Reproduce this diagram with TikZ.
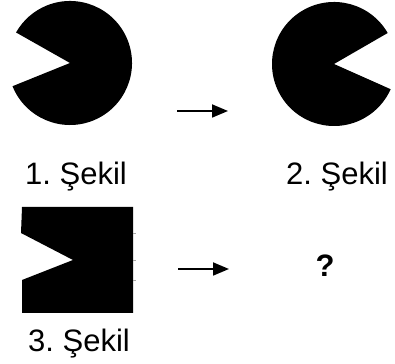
\documentclass[tikz,border=0pt]{standalone}
\usepackage{fontspec}
\setmainfont{Liberation Sans}
\usetikzlibrary{arrows.meta}
\frenchspacing
\tikzset{
  shape fill/.style={fill=black,draw=none},
  lbl/.style={anchor=base,inner sep=0pt,font=\fontsize{31}{31}\selectfont},
  qmark/.style={anchor=base,inner sep=0pt,font=\fontsize{31}{31}\selectfont\bfseries},
  arr/.style={line width=1.8pt,-{Triangle[length=16pt,width=13pt]}},
}
\begin{document}
\begin{tikzpicture}[x=1pt,y=1pt]
\useasboundingbox (0,0) rectangle (395,363);
% Figure 1
\coordinate (c1) at (70,300);
\fill[shape fill] (c1) -- ++(202:62) arc[start angle=202,end angle=510.5,radius=62] -- cycle;
% Figure 2
\coordinate (c2) at (334,299);
\fill[shape fill] (c2) -- ++(30:62) arc[start angle=30,end angle=336,radius=62] -- cycle;
% Figure 3
\fill[shape fill] (22,156) -- (133,156) -- (133,50) -- (22,50) -- (22,83) -- (73,103) -- (21,130) -- cycle;
\foreach \yy in {130,103,83} \draw[gray!70,line width=0.6pt] (133,\yy) -- (135.5,\yy);
% labels
\node[lbl] (l1) at (76,178) {1. Şekil};
\node[lbl] (l2) at (337,178) {2. Şekil};
\node[lbl] (l3) at (79,12) {3. Şekil};
\node[qmark] (q) at (325,86) {?};
% arrows
\coordinate (a1s) at (177,252);
\coordinate (a1e) at (228,252);
\coordinate (a2s) at (178,94);
\coordinate (a2e) at (229,94);
\draw[arr] (a1s) -- (a1e);
\draw[arr] (a2s) -- (a2e);
\end{tikzpicture}
\end{document}
